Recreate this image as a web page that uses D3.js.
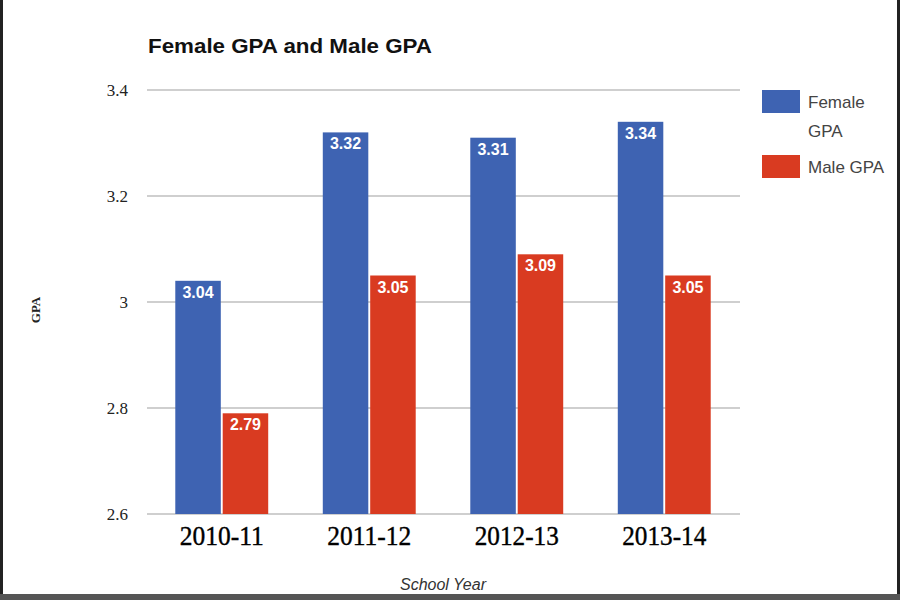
<!DOCTYPE html>
<html><head><meta charset="utf-8">
<script src="https://cdn.jsdelivr.net/npm/d3@7"></script>
<style>html,body{margin:0;padding:0;background:#fff;}svg{display:block;}</style>
</head><body>
<svg id="c" width="900" height="600"></svg>
<script>
const categories = ["2010-11", "2011-12", "2012-13", "2013-14"];
const femaleGPA = [3.04, 3.32, 3.31, 3.34];
const maleGPA = [2.79, 3.05, 3.09, 3.05];
const seriesNames = ["Female GPA", "Male GPA"];
const yTicks = [2.6, 2.8, 3.0, 3.2, 3.4];

const colors = {"Female GPA": "#3e63b2", "Male GPA": "#d93b21"};
const svg = d3.select("#c");
const W = 900, H = 600;
svg.append("rect").attr("width", W).attr("height", H).attr("fill", "#fff");

const x0 = d3.scaleBand().domain(categories).range([148, 738]).paddingInner(0.37).paddingOuter(0.185);
const x1 = d3.scaleBand().domain(seriesNames).range([0, x0.bandwidth()]).paddingInner(0.04);
const y = d3.scaleLinear().domain([2.6, 3.4]).range([514, 90]);

// gridlines
svg.append("g").selectAll("line").data(yTicks).join("line")
  .attr("x1", 147).attr("x2", 740)
  .attr("y1", d => y(d)).attr("y2", d => y(d))
  .attr("stroke", "#cfcfcf").attr("stroke-width", 2);

// y axis labels
const yAxis = d3.axisLeft(y).tickValues(yTicks).tickFormat(d3.format("~g")).tickSize(0).tickPadding(0);
const yg = svg.append("g").attr("transform", "translate(128,0)").call(yAxis);
yg.select(".domain").remove();
yg.selectAll("text").attr("font-family", "Liberation Serif, serif").attr("font-size", 17)
  .attr("fill", "#222").attr("dy", "0.35em");

// bars
const rows = categories.map((c, i) => ({cat: c, vals: [
  {s: seriesNames[0], v: femaleGPA[i]}, {s: seriesNames[1], v: maleGPA[i]}]}));
const groups = svg.append("g").selectAll("g").data(rows).join("g")
  .attr("transform", d => `translate(${x0(d.cat)},0)`);
groups.selectAll("rect").data(d => d.vals).join("rect")
  .attr("x", d => x1(d.s)).attr("width", x1.bandwidth())
  .attr("y", d => y(d.v)).attr("height", d => y(2.6) - y(d.v))
  .attr("fill", d => colors[d.s]);
groups.selectAll("text").data(d => d.vals).join("text")
  .attr("x", d => x1(d.s) + x1.bandwidth() / 2)
  .attr("y", d => y(d.v) + 17)
  .attr("text-anchor", "middle").attr("fill", "#fff")
  .attr("font-family", "Liberation Sans, Arial, sans-serif").attr("font-weight", "bold").attr("font-size", 16)
  .text(d => d3.format(".2f")(d.v));

// x axis labels
const xAxis = d3.axisBottom(x0).tickSize(0).tickPadding(0);
const xg = svg.append("g").attr("transform", "translate(0,519)").call(xAxis);
xg.select(".domain").remove();
xg.selectAll("text").attr("font-family", "Liberation Serif, serif").attr("font-size", 27)
  .attr("fill", "#000").attr("stroke", "#000").attr("stroke-width", 0.4).attr("dy", "0.95em")
  .attr("textLength", 84).attr("lengthAdjust", "spacingAndGlyphs");

// title
svg.append("text").attr("x", 148).attr("y", 53)
  .attr("font-family", "Liberation Sans, Arial, sans-serif").attr("font-weight", "bold").attr("font-size", 20)
  .attr("fill", "#111").attr("textLength", 284).attr("lengthAdjust", "spacingAndGlyphs")
  .text("Female GPA and Male GPA");

// axis titles
svg.append("text").attr("transform", "translate(40,310) rotate(-90)")
  .attr("text-anchor", "middle").attr("font-family", "Liberation Serif, serif").attr("font-weight", "bold")
  .attr("font-size", 13).attr("fill", "#222").text("GPA");
svg.append("text").attr("x", 443).attr("y", 590).attr("text-anchor", "middle")
  .attr("font-family", "Liberation Sans, Arial, sans-serif").attr("font-style", "italic")
  .attr("font-size", 16).attr("fill", "#333").text("School Year");

// legend
const legendLines = [["Female", "GPA"], ["Male GPA"]];
const lg = svg.append("g").selectAll("g").data(seriesNames).join("g")
  .attr("transform", (d, i) => `translate(762,${90 + i * 65})`);
lg.append("rect").attr("width", 38).attr("height", 23).attr("fill", d => colors[d]);
lg.each(function(d, i) {
  const t = d3.select(this).append("text").attr("font-family", "Liberation Sans, Arial, sans-serif")
    .attr("font-size", 17).attr("fill", "#444");
  legendLines[i].forEach((ln, j) => t.append("tspan").attr("x", 46).attr("y", 18 + j * 29).text(ln));
});

// frame
svg.append("rect").attr("x", 0).attr("y", 0).attr("width", 3).attr("height", H).attr("fill", "#222");
svg.append("rect").attr("x", 897).attr("y", 0).attr("width", 3).attr("height", H).attr("fill", "#222");
svg.append("rect").attr("x", 0).attr("y", 594).attr("width", W).attr("height", 6).attr("fill", "#555");
</script>
</body></html>
